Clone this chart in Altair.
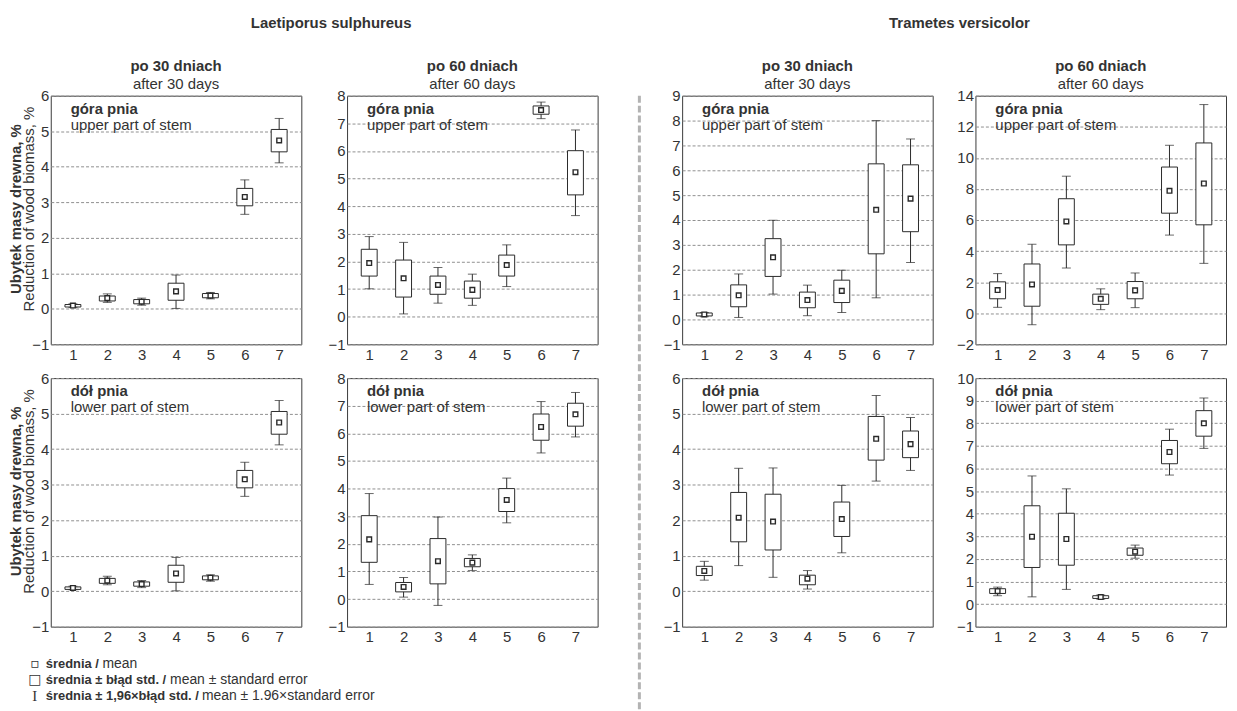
import altair as alt
import pandas as pd

CATS = [1, 2, 3, 4, 5, 6, 7]

# Laetiporus sulphureus, upper part of stem, after 30 days
LS_UP30_MEAN = [0.09, 0.30, 0.20, 0.49, 0.37, 3.15, 4.74]
LS_UP30_SE_LO = [0.05, 0.22, 0.14, 0.24, 0.31, 2.90, 4.42]
LS_UP30_SE_HI = [0.12, 0.36, 0.26, 0.72, 0.43, 3.39, 5.05]
LS_UP30_CI_LO = [0.04, 0.18, 0.10, 0.01, 0.28, 2.66, 4.11]
LS_UP30_CI_HI = [0.14, 0.42, 0.30, 0.95, 0.46, 3.63, 5.36]

# Laetiporus sulphureus, upper part of stem, after 60 days
LS_UP60_MEAN = [1.94, 1.39, 1.15, 0.97, 1.87, 7.48, 5.23]
LS_UP60_SE_LO = [1.47, 0.71, 0.81, 0.67, 1.47, 7.33, 4.41]
LS_UP60_SE_HI = [2.44, 2.05, 1.47, 1.29, 2.23, 7.63, 6.01]
LS_UP60_CI_LO = [1.01, 0.10, 0.49, 0.41, 1.09, 7.17, 3.66]
LS_UP60_CI_HI = [2.90, 2.69, 1.78, 1.54, 2.60, 7.77, 6.76]

# Laetiporus sulphureus, lower part of stem, after 30 days
LS_LO30_MEAN = [0.09, 0.30, 0.20, 0.50, 0.38, 3.15, 4.75]
LS_LO30_SE_LO = [0.05, 0.22, 0.14, 0.25, 0.32, 2.91, 4.42]
LS_LO30_SE_HI = [0.12, 0.36, 0.26, 0.73, 0.43, 3.40, 5.06]
LS_LO30_CI_LO = [0.04, 0.18, 0.10, 0.01, 0.28, 2.67, 4.12]
LS_LO30_CI_HI = [0.14, 0.42, 0.30, 0.95, 0.46, 3.63, 5.37]

# Laetiporus sulphureus, lower part of stem, after 60 days
LS_LO60_MEAN = [2.16, 0.44, 1.37, 1.32, 3.59, 6.23, 6.69]
LS_LO60_SE_LO = [1.33, 0.26, 0.55, 1.17, 3.17, 5.75, 6.26]
LS_LO60_SE_HI = [3.02, 0.60, 2.19, 1.47, 4.00, 6.70, 7.09]
LS_LO60_CI_LO = [0.53, 0.07, -0.23, 1.03, 2.76, 5.29, 5.87]
LS_LO60_CI_HI = [3.82, 0.78, 2.97, 1.60, 4.38, 7.15, 7.48]

# Trametes versicolor, upper part of stem, after 30 days
TV_UP30_MEAN = [0.20, 0.97, 2.50, 0.78, 1.15, 4.41, 4.86]
TV_UP30_SE_LO = [0.14, 0.51, 1.73, 0.47, 0.68, 2.64, 3.53]
TV_UP30_SE_HI = [0.26, 1.39, 3.25, 1.10, 1.58, 6.26, 6.22]
TV_UP30_CI_LO = [0.11, 0.08, 1.02, 0.15, 0.28, 0.87, 2.29]
TV_UP30_CI_HI = [0.28, 1.83, 3.99, 1.38, 1.98, 8.00, 7.26]

# Trametes versicolor, upper part of stem, after 60 days
TV_UP60_MEAN = [1.49, 1.85, 5.91, 0.93, 1.47, 7.88, 8.35]
TV_UP60_SE_LO = [0.93, 0.45, 4.40, 0.57, 0.93, 6.44, 5.69]
TV_UP60_SE_HI = [2.02, 3.17, 7.37, 1.23, 2.04, 9.41, 10.96]
TV_UP60_CI_LO = [0.38, -0.74, 2.91, 0.23, 0.36, 5.03, 3.21]
TV_UP60_CI_HI = [2.55, 4.44, 8.82, 1.57, 2.59, 10.81, 13.43]

# Trametes versicolor, lower part of stem, after 30 days
TV_LO30_MEAN = [0.57, 2.07, 1.96, 0.35, 2.03, 4.29, 4.14]
TV_LO30_SE_LO = [0.44, 1.39, 1.16, 0.18, 1.54, 3.69, 3.76]
TV_LO30_SE_HI = [0.70, 2.78, 2.73, 0.45, 2.51, 4.92, 4.51]
TV_LO30_CI_LO = [0.31, 0.72, 0.39, 0.06, 1.08, 3.10, 3.40]
TV_LO30_CI_HI = [0.84, 3.46, 3.47, 0.58, 2.98, 5.51, 4.89]

# Trametes versicolor, lower part of stem, after 60 days
TV_LO60_MEAN = [0.57, 2.98, 2.88, 0.31, 2.32, 6.73, 8.00]
TV_LO60_SE_LO = [0.47, 1.62, 1.72, 0.25, 2.16, 6.21, 7.43]
TV_LO60_SE_HI = [0.68, 4.35, 4.02, 0.37, 2.48, 7.24, 8.56]
TV_LO60_CI_LO = [0.37, 0.32, 0.65, 0.22, 2.03, 5.71, 6.89]
TV_LO60_CI_HI = [0.75, 5.67, 5.10, 0.40, 2.61, 7.74, 9.12]

SPECIES = ["Laetiporus sulphureus", "Trametes versicolor"]
TITLE_PL = ["po 30 dniach", "po 60 dniach"]
TITLE_EN = ["after 30 days", "after 60 days"]
PART_PL = ["góra pnia", "dół pnia"]
PART_EN = ["upper part of stem", "lower part of stem"]
YTITLE_PL = "Ubytek masy drewna, %"
YTITLE_EN = "Reduction of wood biomass, %"
LEG_SYM = ["▫", "□", "I"]
LEG_BOLD = ["średnia /", "średnia ± błąd std. /", "średnia ± 1,96×błąd std. /"]
LEG_NORM = ["mean", "mean ± standard error", "mean ± 1.96×standard error"]

W, H = 252, 250
TXT = "#333333"
LINE = "#2a2a2a"
GRID = "#8f8f8f"
FONT = "Liberation Sans"


def text_layer(txt, x, y, size=15, weight="normal", angle=0, align="left", font=FONT):
    return alt.Chart(pd.DataFrame({"t": [txt]})).mark_text(
        align=align, baseline="middle", fontSize=size, fontWeight=weight,
        angle=angle, color=TXT, font=font
    ).encode(x=alt.value(x), y=alt.value(y), text="t:N")


def panel(mean, se_lo, se_hi, ci_lo, ci_hi, ymin, ymax, ystep, part, col_title=None, ytitle=False):
    df = pd.DataFrame(dict(cat=CATS, mean=mean, se_lo=se_lo, se_hi=se_hi,
                           ci_lo=ci_lo, ci_hi=ci_hi))
    xs = alt.Scale(domain=[0.5, 7.5], nice=False, zero=False)
    xa = alt.Axis(values=CATS, format="d", ticks=False, domain=False, grid=False,
                  labelFontSize=15, labelPadding=3, labelColor=TXT, labelFont=FONT,
                  title=None)
    ys = alt.Scale(domain=[ymin, ymax], nice=False, zero=False)
    ya = alt.Axis(values=list(range(ymin, ymax + 1, ystep)), format="d", ticks=False,
                  domain=False, grid=True, gridDash=[3, 2], gridColor=GRID, gridWidth=1,
                  labelFontSize=15, labelPadding=2, labelColor=TXT, labelFont=FONT,
                  title=None)

    def X():
        return alt.X("cat:Q", scale=xs, axis=xa)

    def Y(f):
        return alt.Y(f"{f}:Q", scale=ys, axis=ya)

    base = alt.Chart(df)
    whisk = base.mark_rule(color=LINE, strokeWidth=1).encode(x=X(), y=Y("ci_lo"), y2="ci_hi:Q")
    cap_lo = base.mark_tick(orient="horizontal", size=9, thickness=1, color=LINE).encode(x=X(), y=Y("ci_lo"))
    cap_hi = base.mark_tick(orient="horizontal", size=9, thickness=1, color=LINE).encode(x=X(), y=Y("ci_hi"))
    box = base.mark_bar(size=16, fill="white", stroke=LINE, strokeWidth=1).encode(
        x=X(), y=Y("se_lo"), y2="se_hi:Q")
    pt = base.mark_square(size=22, fill="white", stroke=LINE, strokeWidth=1.4, opacity=1).encode(
        x=X(), y=Y("mean"))
    layers = [whisk, cap_lo, cap_hi, box, pt,
              text_layer(PART_PL[part], 20, 13.5, weight="bold"),
              text_layer(PART_EN[part], 20, 29)]
    if ytitle:
        layers.append(text_layer(YTITLE_EN, -22, H / 2 - 11, angle=270, align="center"))
        layers.append(text_layer(YTITLE_PL, -35, H / 2 - 11, weight="bold", angle=270, align="center"))
    ch = alt.layer(*layers)
    props = dict(width=W, height=H)
    if col_title is not None:
        props["title"] = alt.TitleParams(
            text=TITLE_PL[col_title], subtitle=TITLE_EN[col_title], fontSize=15, fontWeight="bold",
            subtitleFontSize=15, subtitleFontWeight="normal", color=TXT, subtitleColor=TXT,
            font=FONT, subtitleFont=FONT, anchor="middle", frame="group", offset=-3,
            subtitlePadding=3)
    return ch.properties(**props)


p1 = panel(LS_UP30_MEAN, LS_UP30_SE_LO, LS_UP30_SE_HI, LS_UP30_CI_LO, LS_UP30_CI_HI, -1, 6, 1, 0, 0, True)
p2 = panel(LS_UP60_MEAN, LS_UP60_SE_LO, LS_UP60_SE_HI, LS_UP60_CI_LO, LS_UP60_CI_HI, -1, 8, 1, 0, 1)
p5 = panel(LS_LO30_MEAN, LS_LO30_SE_LO, LS_LO30_SE_HI, LS_LO30_CI_LO, LS_LO30_CI_HI, -1, 6, 1, 1, None, True)
p6 = panel(LS_LO60_MEAN, LS_LO60_SE_LO, LS_LO60_SE_HI, LS_LO60_CI_LO, LS_LO60_CI_HI, -1, 8, 1, 1)
p3 = panel(TV_UP30_MEAN, TV_UP30_SE_LO, TV_UP30_SE_HI, TV_UP30_CI_LO, TV_UP30_CI_HI, -1, 9, 1, 0, 0)
p4 = panel(TV_UP60_MEAN, TV_UP60_SE_LO, TV_UP60_SE_HI, TV_UP60_CI_LO, TV_UP60_CI_HI, -2, 14, 2, 0, 1)
p7 = panel(TV_LO30_MEAN, TV_LO30_SE_LO, TV_LO30_SE_HI, TV_LO30_CI_LO, TV_LO30_CI_HI, -1, 6, 1, 1)
p8 = panel(TV_LO60_MEAN, TV_LO60_SE_LO, TV_LO60_SE_HI, TV_LO60_CI_LO, TV_LO60_CI_HI, -1, 10, 1, 1)

# legend block (x positions are relative to the left edge of the first plot)
leg_layers = []
leg_y = [12, 27.5, 43.5]
leg_norm_x = [52, 120, 152]
for i in range(3):
    if i == 2:
        leg_layers.append(text_layer(LEG_SYM[i], -16, leg_y[i], size=15, align="center", font="Liberation Serif"))
    else:
        leg_layers.append(text_layer(LEG_SYM[i], -16, leg_y[i], size=14, align="center", font="DejaVu Sans"))
    leg_layers.append(text_layer(LEG_BOLD[i], -5, leg_y[i], size=13, weight="bold"))
    leg_layers.append(text_layer(LEG_NORM[i], leg_norm_x[i], leg_y[i], size=14))
legend = alt.layer(*leg_layers).properties(
    width=330, height=50, view=alt.ViewBackground(stroke="transparent"))

sep = alt.Chart(pd.DataFrame({"a": [0]})).mark_rule(
    color="#b3b3b3", strokeWidth=3, strokeDash=[7, 3]
).encode(x=alt.value(40), y=alt.value(0), y2=alt.value(688)).properties(
    width=62, height=1, view=alt.ViewBackground(stroke="transparent"))


def gtitle(t, dx):
    return alt.TitleParams(text=t, fontSize=15, fontWeight="bold", color=TXT, font=FONT,
                           anchor="middle", offset=28, dx=dx)


ls = alt.vconcat(
    alt.vconcat(alt.hconcat(p1, p2, spacing=25), alt.hconcat(p5, p6, spacing=25), spacing=7),
    legend, spacing=6, title=gtitle(SPECIES[0], 28))
tv = alt.vconcat(alt.hconcat(p3, p4, spacing=22), alt.hconcat(p7, p8, spacing=22),
                 spacing=7, title=gtitle(SPECIES[1], 15))

chart = alt.hconcat(ls, sep, tv, spacing=0).properties(
    padding={"left": 0, "top": 5, "right": 2, "bottom": 0}
).configure(font=FONT).configure_view(stroke="#3a3a3a", strokeWidth=1)

chart.save("out.html", embed_options={"renderer": "svg", "actions": False})
